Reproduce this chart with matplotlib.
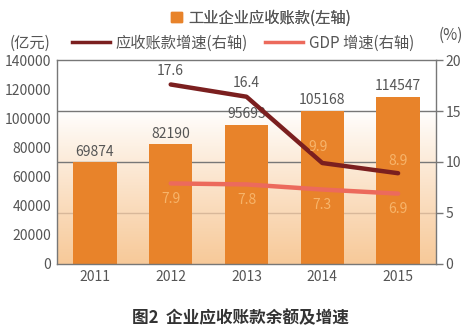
import matplotlib

matplotlib.use("Agg")
import matplotlib.pyplot as plt
import numpy as np
from matplotlib.lines import Line2D
from matplotlib.patches import Patch

plt.rcParams["font.family"] = ["Noto Sans CJK SC", "DejaVu Sans"]

years = ["2011", "2012", "2013", "2014", "2015"]
receivables = [69874, 82190, 95693, 105168, 114547]
recv_growth = [17.6, 16.4, 9.9, 8.9]   # 2012-2015
gdp_growth = [7.9, 7.8, 7.3, 6.9]      # 2012-2015

BAR = "#e8832a"
DARK = "#7b1f1f"
SALMON = "#ec6a5c"
GREY = "#555555"
LIGHT = "#f7b46a"

fig = plt.figure(figsize=(4.72, 3.27), dpi=100)
ax = fig.add_axes([0.1208, 0.1927, 0.8029, 0.6238])
x = np.arange(len(years))

# white-to-peach gradient behind the bars
grad = np.linspace(0, 1, 256).reshape(-1, 1)
top = np.array([1.0, 1.0, 1.0])
bot = np.array([0.97, 0.79, 0.60])
w = np.clip((grad - 0.25) / 0.75, 0, 1) ** 0.9
img = top * (1 - w[..., None]) + bot * w[..., None]
ax.imshow(img[::-1], extent=[-0.5, 4.5, 0, 140000], aspect="auto",
          origin="lower", zorder=0)

# grid follows the right axis (5, 10, 15 %)
for yv, c in [(15, "#777777"), (10, "#777777"), (5, "#d8b89a")]:
    ax.axhline(yv * 7000, color=c, lw=1.0, zorder=1)

ax.bar(x, receivables, width=0.57, color=BAR, zorder=2)
for xi, v in zip(x, receivables):
    ax.text(xi, v + 2500, str(v), ha="center", va="bottom", fontsize=10,
            color=GREY, zorder=5)

ax.set_xlim(-0.5, 4.5)
ax.set_ylim(0, 140000)
ax.set_yticks(range(0, 140001, 20000))
ax.set_xticks(x)
ax.set_xticklabels(years)
ax.tick_params(axis="both", length=0, labelsize=10, labelcolor=GREY, pad=4)
for s in ax.spines.values():
    s.set_color("#777777")
    s.set_linewidth(1.0)

ax2 = ax.twinx()
ax2.set_ylim(0, 20)
ax2.set_yticks([0, 5, 10, 15, 20])
ax2.tick_params(axis="y", length=5, width=1, color="#777777", labelsize=10,
                labelcolor=GREY, pad=2)
for s in ax2.spines.values():
    s.set_visible(False)
ax2.patch.set_visible(False)

xs = x[1:]
ax2.plot(xs, recv_growth, color=DARK, lw=3.2, solid_capstyle="round", zorder=4)
ax2.plot(xs, gdp_growth, color=SALMON, lw=3.2, solid_capstyle="round", zorder=4)

rg_off = [(0, 0.6), (0, 0.7), (-0.05, 0.9), (0, 0.5)]
for xi, v, off in zip(xs, recv_growth, rg_off):
    col = GREY if v > 15 else LIGHT
    ax2.text(xi + off[0], v + off[1], f"{v:.1f}", ha="center", va="bottom",
             fontsize=10, color=col, zorder=6)
for xi, v in zip(xs, gdp_growth):
    ax2.text(xi, v - 0.8, f"{v:.1f}", ha="center", va="top", fontsize=10,
             color=LIGHT, zorder=6)

fig.text(0.063, 0.868, "(亿元)", ha="center", va="center", fontsize=11, color=GREY)
fig.text(0.955, 0.893, "(%)", ha="center", va="center", fontsize=11, color=GREY)

leg1 = fig.legend(handles=[Patch(color=BAR)], labels=["工业企业应收账款(左轴)"],
                  loc="center", bbox_to_anchor=(0.553, 0.945), frameon=False,
                  fontsize=11, handlelength=0.7, handleheight=0.7, handletextpad=0.4,
                  labelcolor=GREY)
fig.add_artist(leg1)
fig.legend(handles=[Line2D([], [], color=DARK, lw=2.5),
                    Line2D([], [], color=SALMON, lw=2.5)],
           labels=["应收账款增速(右轴)", "GDP 增速(右轴)"],
           loc="center", bbox_to_anchor=(0.515, 0.868), ncol=2, frameon=False,
           fontsize=11, handlelength=2.5, handletextpad=0.4, columnspacing=1.1,
           labelcolor=GREY)

fig.text(0.51, 0.028, "图2  企业应收账款余额及增速", ha="center", va="center",
         fontsize=12, fontweight="bold", color="#333333")

fig.savefig("out.png", dpi=100)
